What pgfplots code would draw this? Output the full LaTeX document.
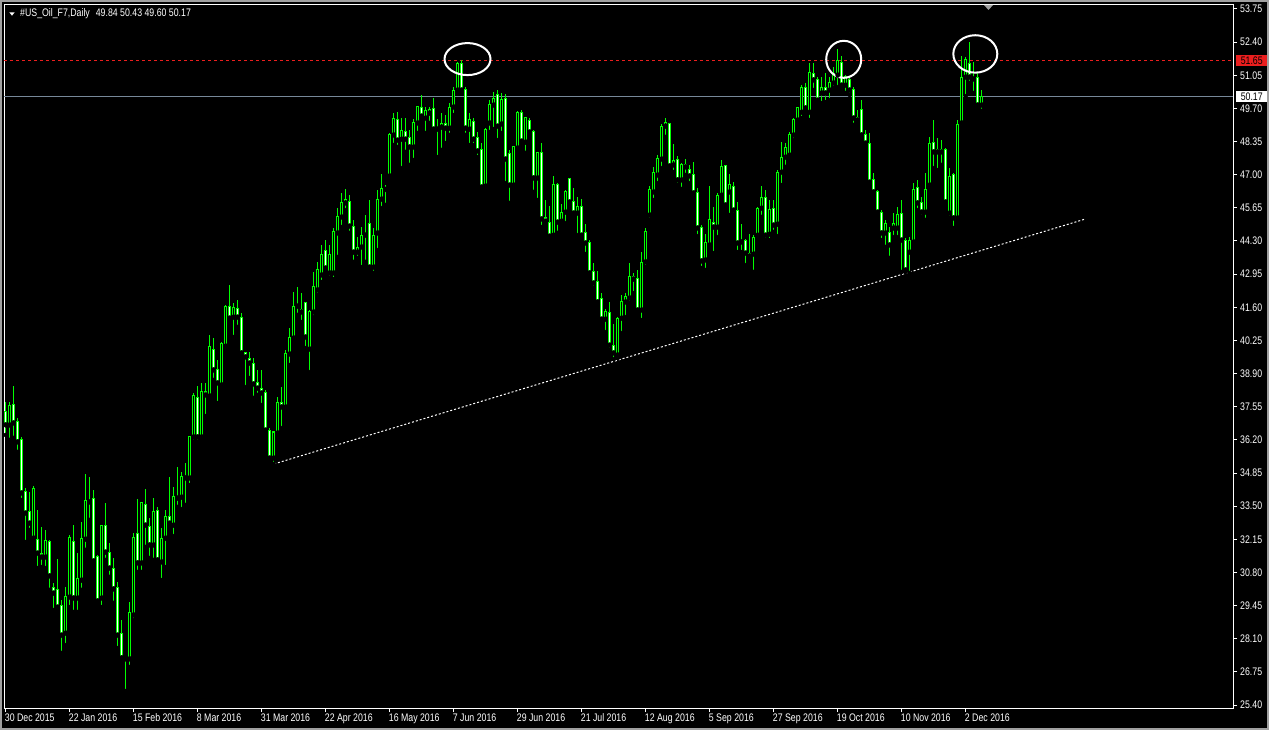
\documentclass[border=0pt]{standalone}
\usepackage{fontspec}
\setmainfont{Liberation Sans}[FakeStretch=0.8]
\usepackage{pgfplots}
\usepackage{pgfplotstable}
\pgfplotsset{compat=1.18}
\definecolor{mtlime}{RGB}{0,255,0}
\definecolor{mtgray}{RGB}{119,136,153}
\definecolor{mtred}{RGB}{235,30,30}
\definecolor{frame}{RGB}{160,160,160}

\pgfplotstableread{
i o h l c
0 37.34 37.74 36.40 36.81
1 36.81 37.74 36.20 37.58
2 37.62 38.39 36.28 36.89
3 36.93 37.09 35.71 36.12
4 36.20 36.32 33.75 34.04
5 34.08 34.24 32.04 33.22
6 33.30 34.08 32.53 32.81
7 32.20 34.32 32.04 34.20
8 32.16 33.34 30.98 31.59
9 31.59 32.65 31.02 31.43
10 31.43 32.53 30.98 32.12
11 32.08 32.12 30.09 30.66
12 30.17 30.37 29.27 29.96
13 30.09 31.35 29.35 29.39
14 29.47 29.68 27.52 28.25
15 28.33 30.21 27.84 29.80
16 29.80 32.33 29.39 32.24
17 32.04 32.73 29.19 29.76
18 29.76 31.59 29.19 30.57
19 30.49 32.86 30.09 32.20
20 32.16 34.81 31.72 33.71
21 33.67 34.69 32.94 33.75
22 33.83 34.16 31.23 31.27
23 31.43 31.51 29.56 29.64
24 29.76 32.73 29.39 32.73
25 32.73 33.63 31.31 31.63
26 31.63 32.00 30.62 30.98
27 30.94 31.39 29.56 30.13
28 30.17 30.41 27.72 28.25
29 28.33 28.86 27.32 27.32
30 27.32 27.32 25.97 27.28
31 27.28 29.60 26.95 29.15
32 29.07 32.41 28.86 32.24
33 32.37 33.79 30.82 31.19
34 31.19 33.67 30.82 33.63
35 33.55 34.20 31.84 32.73
36 32.69 33.02 31.39 31.92
37 31.92 33.83 31.31 33.30
38 33.34 33.47 31.19 31.31
39 31.23 32.61 30.49 32.20
40 32.20 33.34 31.02 33.06
41 33.06 34.69 32.65 32.81
42 32.73 34.28 32.28 33.91
43 33.91 35.09 33.47 33.83
44 33.87 34.89 33.38 34.69
45 34.69 35.26 33.55 34.65
46 34.65 36.32 34.36 36.32
47 36.32 38.11 36.12 37.99
48 37.91 38.39 36.12 36.32
49 36.32 38.52 36.20 38.15
50 38.15 38.52 37.17 38.03
51 37.99 40.47 37.95 40.02
52 39.90 40.35 38.64 39.05
53 39.05 39.45 37.70 38.52
54 38.44 40.19 38.35 40.11
55 40.02 41.69 39.98 41.65
56 41.65 42.51 41.08 41.16
57 41.20 41.78 40.39 41.61
58 41.57 41.90 40.80 41.20
59 41.20 41.37 39.74 39.74
60 39.74 39.78 38.35 39.58
61 39.53 39.78 38.72 39.33
62 39.33 39.53 37.91 38.48
63 38.52 39.05 38.03 38.31
64 38.31 39.05 37.62 38.11
65 38.11 38.23 36.56 36.60
66 36.60 36.68 35.42 35.46
67 35.46 36.56 35.22 36.52
68 36.48 37.95 36.48 37.74
69 37.74 38.35 36.68 37.54
70 37.54 39.86 37.50 39.70
71 39.70 40.76 39.25 40.35
72 40.35 42.22 40.27 41.65
73 41.65 42.43 41.29 41.69
74 41.53 42.18 41.00 41.41
75 41.78 41.78 39.94 40.39
76 39.90 41.49 38.96 41.41
77 41.41 43.04 41.20 42.43
78 42.31 43.45 42.10 43.12
79 42.92 44.14 42.63 43.73
80 43.93 44.34 43.04 43.20
81 43.00 44.14 42.80 43.73
82 43.00 44.83 42.75 44.67
83 44.63 45.64 43.65 45.28
84 45.28 46.26 44.87 45.85
85 45.85 46.42 45.56 45.97
86 45.89 46.17 44.63 44.91
87 44.91 45.16 43.45 43.85
88 43.85 44.46 43.61 44.02
89 44.06 44.87 43.24 44.54
90 44.54 45.36 43.45 44.58
91 45.03 45.97 43.20 43.24
92 43.24 44.83 43.00 44.54
93 44.63 46.38 43.93 46.01
94 46.01 47.03 45.64 46.42
95 46.42 46.58 45.77 46.40
96 46.95 48.70 46.87 48.62
97 48.62 49.51 48.21 49.27
98 49.23 49.55 48.13 48.41
99 48.45 49.31 47.27 48.82
100 48.78 49.31 47.93 48.45
101 48.50 48.82 47.40 48.13
102 48.13 49.27 47.60 49.11
103 49.11 49.80 48.70 49.76
104 49.72 50.25 49.23 49.39
105 49.31 49.76 48.70 49.60
106 49.51 49.76 49.11 49.64
107 49.68 50.12 48.82 48.86
108 48.94 49.27 47.72 48.86
109 48.94 49.51 48.01 49.07
110 49.07 49.43 48.29 48.90
111 48.90 49.92 48.62 49.72
112 49.76 50.57 49.43 50.45
113 50.45 51.59 50.37 51.55
114 51.55 51.67 50.33 50.45
115 50.49 50.57 48.62 48.90
116 48.86 49.51 48.21 49.23
117 49.15 49.31 48.21 48.45
118 48.50 48.74 47.72 47.97
119 48.01 48.29 46.42 46.50
120 46.54 48.90 46.38 48.86
121 49.11 50.04 48.74 49.84
122 49.84 50.37 48.86 50.12
123 50.25 50.45 48.41 48.98
124 49.07 50.33 48.70 50.08
125 50.12 50.29 46.66 47.64
126 47.85 48.01 45.85 46.58
127 46.58 48.17 46.50 48.13
128 48.09 49.60 48.01 49.55
129 49.55 49.64 48.21 48.37
130 48.33 49.35 47.89 49.31
131 49.19 49.31 48.62 48.74
132 48.74 48.82 46.30 46.87
133 46.87 47.93 45.97 47.89
134 47.89 48.29 44.87 45.20
135 45.24 45.97 45.07 45.11
136 45.07 45.73 44.42 44.50
137 44.54 46.95 44.46 46.62
138 46.62 46.66 44.63 45.07
139 45.11 45.81 45.03 45.48
140 45.48 46.38 45.03 46.30
141 46.83 46.87 45.85 45.89
142 45.89 46.46 45.36 45.44
143 45.44 46.09 44.54 45.69
144 45.69 46.01 44.50 44.54
145 44.63 44.99 43.77 44.22
146 44.22 44.34 42.99 43.00
147 43.04 43.41 42.39 42.59
148 42.63 43.08 41.69 41.82
149 41.94 42.18 41.00 41.12
150 41.12 41.53 40.59 41.41
151 41.37 41.82 39.86 40.06
152 40.06 40.92 39.49 39.74
153 39.66 41.20 39.53 41.16
154 41.16 42.10 40.55 41.82
155 41.82 42.18 41.20 42.02
156 41.98 43.41 41.78 42.84
157 42.84 43.00 42.18 42.75
158 42.79 43.12 41.41 41.49
159 41.49 43.85 41.08 43.41
160 43.45 44.83 43.24 44.67
161 45.36 46.54 45.16 46.38
162 46.30 47.32 45.97 47.11
163 46.99 47.80 46.66 47.64
164 47.64 49.07 47.27 48.98
165 48.98 49.31 48.54 49.11
166 49.07 49.11 47.27 47.36
167 47.40 48.25 47.11 47.56
168 47.60 47.76 46.58 46.79
169 46.79 47.48 46.42 47.40
170 47.40 47.64 46.99 47.32
171 47.23 47.40 46.66 46.95
172 46.99 47.52 46.09 46.26
173 46.26 46.46 44.50 44.83
174 44.87 44.95 43.20 43.49
175 43.53 44.58 43.12 44.22
176 44.14 46.54 44.02 45.16
177 45.07 45.69 43.81 44.87
178 44.87 46.26 44.46 46.17
179 46.17 47.60 46.05 47.32
180 47.36 47.40 45.73 45.77
181 46.30 47.03 45.36 46.62
182 46.50 46.70 45.36 45.56
183 45.56 45.89 43.85 44.22
184 44.26 44.99 43.85 44.34
185 44.34 44.38 43.32 43.81
186 43.81 44.58 43.65 43.69
187 43.77 44.54 43.04 44.46
188 44.54 45.69 44.42 45.64
189 45.64 46.54 45.28 46.09
190 46.09 46.38 44.34 44.54
191 44.58 45.97 44.34 45.60
192 45.64 45.97 44.67 44.95
193 44.99 47.19 44.50 47.11
194 47.11 48.33 46.58 47.72
195 47.72 48.29 47.32 48.09
196 47.80 48.74 47.72 48.62
197 48.62 49.31 48.41 49.23
198 49.23 49.76 49.15 49.72
199 49.55 50.65 49.31 50.57
200 50.57 50.74 49.58 49.72
201 49.55 51.55 49.23 51.18
202 51.14 51.55 50.45 50.86
203 50.86 50.98 49.92 50.04
204 50.33 50.98 49.92 50.57
205 50.57 51.14 49.96 50.33
206 50.45 50.98 50.04 50.74
207 50.74 51.39 50.53 51.14
208 51.06 52.12 50.57 51.67
209 51.59 51.84 50.53 50.65
210 50.65 51.06 50.33 50.98
211 50.86 50.98 50.25 50.45
212 50.49 50.57 49.03 49.31
213 49.35 49.64 49.15 49.23
214 49.64 50.04 48.54 48.62
215 48.62 48.82 48.13 48.29
216 48.29 48.70 46.66 46.70
217 46.79 47.07 46.26 46.30
218 46.30 46.38 45.44 45.48
219 45.48 45.56 44.34 44.63
220 44.63 45.16 44.06 45.03
221 44.63 44.87 43.61 44.14
222 44.83 45.44 44.46 45.03
223 44.83 45.69 44.46 45.36
224 45.44 45.97 43.04 44.34
225 44.34 44.42 43.04 43.12
226 43.85 44.46 43.00 44.34
227 44.26 46.66 44.22 46.38
228 46.46 46.79 45.56 45.85
229 45.85 46.09 45.28 45.48
230 45.48 47.07 45.16 46.38
231 46.58 48.54 46.46 48.29
232 48.33 49.23 47.27 47.93
233 48.01 48.50 47.19 47.93
234 47.93 48.41 47.40 48.01
235 48.01 48.09 45.85 45.89
236 45.44 47.27 45.24 46.91
237 46.99 47.07 44.83 45.24
238 45.24 49.23 45.16 49.03
239 49.11 51.84 48.94 50.94
240 50.98 51.80 50.20 51.71
241 51.51 52.41 50.74 50.98
242 50.94 51.59 50.33 50.90
243 50.94 51.18 49.72 49.84
244 49.84 50.43 49.60 50.17
}\candles

\tikzset{mtfont/.style={font=\fontsize{11}{12}\selectfont}}

\begin{document}
\begin{tikzpicture}
\fill[black] (0,0) rectangle (1269bp,730bp);
\draw[frame, line width=2bp] (1bp,1bp) rectangle (1268bp,729bp);
\begin{axis}[
  at={(4bp,22bp)}, anchor=south west, scale only axis,
  width=1229bp, height=703bp,
  xmin=-0.425, xmax=306.825, ymin=25.278, ymax=53.913,
  clip=false, unbounded coords=discard,
  axis line style={white, line width=1bp},
  tick style={white, line width=1bp},
  major tick length=4bp, tick align=outside,
  xtick pos=left, ytick pos=right, yticklabel pos=right,
  xtick={0,16,...,240},
  xticklabels={30 Dec 2015,22 Jan 2016,15 Feb 2016,8 Mar 2016,31 Mar 2016,22 Apr 2016,16 May 2016,7 Jun 2016,29 Jun 2016,21 Jul 2016,12 Aug 2016,5 Sep 2016,27 Sep 2016,19 Oct 2016,10 Nov 2016,2 Dec 2016},
  ytick={25.40,26.75,28.10,29.45,30.80,32.15,33.50,34.85,36.20,37.55,38.90,40.25,41.60,42.95,44.30,45.65,47.00,48.35,49.70,51.05,52.40,53.75},
  yticklabels={25.40,26.75,28.10,29.45,30.80,32.15,33.50,34.85,36.20,37.55,38.90,40.25,41.60,42.95,44.30,45.65,47.00,48.35,49.70,51.05,52.40,53.75},
  xticklabel style={mtfont, text=white, anchor=north west, inner sep=0pt, text height=8.5bp, text depth=2.5bp, xshift=-1bp, yshift=-1bp},
  yticklabel style={mtfont, text=white, anchor=west, inner sep=0pt, xshift=3bp},
]
% price lines
\addplot[mtred, line width=1bp, dash pattern=on 3bp off 3bp] coordinates {(-0.425,51.65) (306.825,51.65)};
\addplot[mtgray, line width=1bp] coordinates {(-0.425,50.17) (306.825,50.17)};
% trend line
\addplot[white, line width=1bp, dash pattern=on 2bp off 2bp] coordinates {(67.1,35.22) (269.8,45.19)};
% wicks
\addplot[only marks, mark=none, error bars/.cd, y dir=plus, y explicit, error mark=none,
  error bar style={draw=mtlime, line width=1bp}]
  table[x=i, y=l, y error expr=\thisrow{h}-\thisrow{l}] {\candles};
% bodies
\addplot[only marks, mark=none, error bars/.cd, y dir=plus, y explicit, error mark=none,
  error bar style={draw=mtlime, line width=3bp}]
  table[x=i, y expr={min(\thisrow{o},\thisrow{c})-0.0204}, y error expr={abs(\thisrow{o}-\thisrow{c})+0.0408}] {\candles};
% bear interiors (white)
\addplot[only marks, mark=none, error bars/.cd, y dir=plus, y explicit, error mark=none,
  error bar style={draw=white, line width=1bp}]
  table[x=i, y expr={(\thisrow{c}<\thisrow{o}) ? (\thisrow{c}+0.0204) : nan}, y error expr={max(abs(\thisrow{o}-\thisrow{c})-0.0408,0)}] {\candles};
% bull interiors (black)
\addplot[only marks, mark=none, error bars/.cd, y dir=plus, y explicit, error mark=none,
  error bar style={draw=black, line width=1bp}]
  table[x=i, y expr={(\thisrow{c}<\thisrow{o}) ? nan : (\thisrow{o}+0.0204)}, y error expr={max(abs(\thisrow{o}-\thisrow{c})-0.0408,0)}] {\candles};
% circles
\draw[white, line width=2bp] (axis cs:115.45,51.71) ellipse [x radius=23bp, y radius=16bp];
\draw[white, line width=2bp] (axis cs:209.5,51.70) ellipse [x radius=17.5bp, y radius=18.5bp];
\draw[white, line width=2bp] (axis cs:242.4,51.92) ellipse [x radius=22bp, y radius=18.7bp];
% price boxes
\node[mtfont, fill=mtred, text=black, anchor=west, inner sep=0pt, minimum width=31bp, minimum height=11bp, xshift=3bp] at (axis cs:306.825,51.65) {51.65};
\node[mtfont, fill=white, text=black, anchor=west, inner sep=0pt, minimum width=31bp, minimum height=11bp, xshift=3bp] at (axis cs:306.825,50.17) {50.17};
\end{axis}
% title
\fill[white] (9.3bp,717.7bp) -- (14.7bp,717.7bp) -- (12bp,714.3bp) -- cycle;
\node[mtfont, text=white, anchor=west, inner sep=0pt] at (20bp,716.3bp) {\#US\_Oil\_F7,Daily\hspace{6bp}49.84 50.43 49.60 50.17};
% chart shift marker
\fill[frame] (984bp,725bp) -- (993bp,725bp) -- (988.5bp,720bp) -- cycle;
\pgfresetboundingbox
\path[use as bounding box] (0,0) rectangle (1269bp,730bp);
\end{tikzpicture}
\end{document}
